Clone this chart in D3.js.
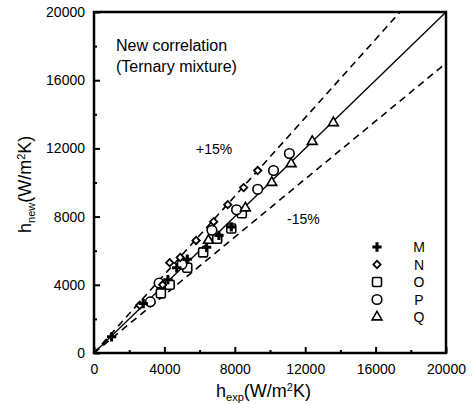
<!DOCTYPE html>
<html>
<head>
<meta charset="utf-8">
<script src="https://cdn.jsdelivr.net/npm/d3@7"></script>
<style>
  body { margin: 0; background: #fff; }
  text { font-family: "Liberation Sans", Arial, sans-serif; fill: #000; }
</style>
</head>
<body>
<div id="chart"></div>
<script>
// data (W/m2K)
var seriesNames = ["M", "N", "O", "P", "Q"];
var M = [[1000, 950], [2800, 2900], [4200, 4300], [4700, 5000], [5300, 5500], [6400, 6200], [7100, 6900], [7800, 7400]];
var N = [[2600, 2800], [3900, 4000], [4300, 5300], [4900, 5600], [5800, 6600], [6800, 7700], [7600, 8700], [8500, 9700], [9300, 10700]];
var O = [[3800, 3500], [4300, 4000], [5300, 5000], [6200, 5900], [7000, 6700], [7800, 7300], [8400, 8200]];
var P = [[3200, 3000], [3700, 4100], [5000, 5200], [6700, 7200], [8100, 8400], [9300, 9600], [10200, 10700], [11100, 11700]];
var Q = [[6500, 6600], [8600, 8500], [10100, 10000], [11200, 11100], [12400, 12400], [13600, 13500]];
var xTicks = [0, 4000, 8000, 12000, 16000, 20000];
var yTicks = [0, 4000, 8000, 12000, 16000, 20000];
var minorTicks = [2000, 6000, 10000, 14000, 18000];
var bandRatio = [1.15, 0.85];

var width = 476, height = 404;
var pLeft = 94, pRight = 446, pTop = 12, pBottom = 353;

var svg = d3.select("#chart").append("svg")
    .attr("width", width).attr("height", height);

var x = d3.scaleLinear().domain([0, 20000]).range([pLeft, pRight]);
var y = d3.scaleLinear().domain([0, 20000]).range([pBottom, pTop]);

// clip for the lines
svg.append("clipPath").attr("id", "clip")
   .append("rect").attr("x", pLeft).attr("y", pTop)
   .attr("width", pRight - pLeft).attr("height", pBottom - pTop);

var line = d3.line().x(function(d){ return x(d[0]); }).y(function(d){ return y(d[1]); });
var g = svg.append("g").attr("clip-path", "url(#clip)");
g.append("path").datum([[0, 0], [20000, 20000]])
  .attr("d", line).attr("stroke", "#000").attr("stroke-width", 1.3).attr("fill", "none");
bandRatio.forEach(function(r){
  g.append("path").datum([[0, 0], [20000, 20000 * r]])
    .attr("d", line).attr("stroke", "#000").attr("stroke-width", 1.6)
    .attr("stroke-dasharray", "7,5").attr("fill", "none");
});

// axes (ticks inward)
var xAxis = d3.axisBottom(x).tickValues(xTicks).tickSizeInner(-6).tickSizeOuter(0).tickPadding(11).tickFormat(d3.format("d"));
var yAxis = d3.axisLeft(y).tickValues(yTicks).tickSizeInner(-6).tickSizeOuter(0).tickPadding(9).tickFormat(d3.format("d"));
var gx = svg.append("g").attr("transform", "translate(0," + pBottom + ")").call(xAxis);
var gy = svg.append("g").attr("transform", "translate(" + pLeft + ",0)").call(yAxis);
var gxm = svg.append("g").attr("transform", "translate(0," + pBottom + ")")
    .call(d3.axisBottom(x).tickValues(minorTicks).tickSizeInner(-3).tickSizeOuter(0).tickFormat(""));
var gym = svg.append("g").attr("transform", "translate(" + pLeft + ",0)")
    .call(d3.axisLeft(y).tickValues(minorTicks).tickSizeInner(-3).tickSizeOuter(0).tickFormat(""));
[gx, gy, gxm, gym].forEach(function(a){
  a.select(".domain").remove();
  a.selectAll("line").attr("stroke", "#000").attr("stroke-width", 2);
  a.selectAll("text").style("font-size", "14px").style("font-family", "Liberation Sans, Arial, sans-serif").attr("fill", "#000");
});

// frame
svg.append("rect").attr("x", pLeft).attr("y", pTop)
   .attr("width", pRight - pLeft).attr("height", pBottom - pTop)
   .attr("fill", "none").attr("stroke", "#000").attr("stroke-width", 2.5);

// markers
var plusPath = d3.symbol().type(d3.symbolCross).size(48);
var symbols = {
  M: function(s){ s.append("path").attr("d", plusPath()).attr("fill", "#000"); },
  N: function(s){ s.append("rect").attr("x", -2.6).attr("y", -2.6).attr("width", 5.2).attr("height", 5.2).attr("transform", "rotate(45)").attr("fill", "#fff").attr("stroke", "#000").attr("stroke-width", 1.8); },
  O: function(s){ s.append("rect").attr("x", -4.5).attr("y", -4.5).attr("width", 9).attr("height", 9).attr("rx", 1.5).attr("fill", "#fff").attr("stroke", "#000").attr("stroke-width", 1.6); },
  P: function(s){ s.append("circle").attr("r", 4.8).attr("fill", "#fff").attr("stroke", "#000").attr("stroke-width", 1.6); },
  Q: function(s){ s.append("path").attr("d", d3.symbol().type(d3.symbolTriangle).size(42)()).attr("fill", "#fff").attr("stroke", "#000").attr("stroke-width", 1.6); }
};
var allData = { M: M, N: N, O: O, P: P, Q: Q };
["O", "P", "Q", "N", "M"].forEach(function(k){
  allData[k].forEach(function(d){
    var s = svg.append("g").attr("transform", "translate(" + x(d[0]) + "," + y(d[1]) + ")");
    symbols[k](s);
  });
});

// legend
seriesNames.forEach(function(k, i){
  var yy = 247 + i * 17.5;
  var s = svg.append("g").attr("transform", "translate(377," + yy + ")");
  symbols[k](s);
  svg.append("text").attr("x", 419).attr("y", yy + 5).attr("text-anchor", "middle")
     .style("font-size", "14px").text(k);
});

// annotations
svg.append("text").attr("x", 116).attr("y", 51).style("font-size", "16px").text("New correlation");
svg.append("text").attr("x", 116).attr("y", 72).style("font-size", "16px").text("(Ternary mixture)");
svg.append("text").attr("x", 196).attr("y", 154).style("font-size", "14px").text("+15%");
svg.append("text").attr("x", 287).attr("y", 224).style("font-size", "14px").text("-15%");

// axis titles
var xt = svg.append("text").attr("x", 216).attr("y", 397).style("font-size", "18px");
xt.append("tspan").text("h");
xt.append("tspan").attr("dy", 4).style("font-size", "11px").text("exp");
xt.append("tspan").attr("dy", -4).text("(W/m");
xt.append("tspan").attr("dy", -6).style("font-size", "11px").text("2");
xt.append("tspan").attr("dy", 6).text("K)");

var yt = svg.append("text").attr("transform", "translate(31,233) rotate(-90)").style("font-size", "18px");
yt.append("tspan").text("h");
yt.append("tspan").attr("dy", 4).style("font-size", "11px").text("new");
yt.append("tspan").attr("dy", -4).text("(W/m");
yt.append("tspan").attr("dy", -6).style("font-size", "11px").text("2");
yt.append("tspan").attr("dy", 6).text("K)");
</script>
</body>
</html>
